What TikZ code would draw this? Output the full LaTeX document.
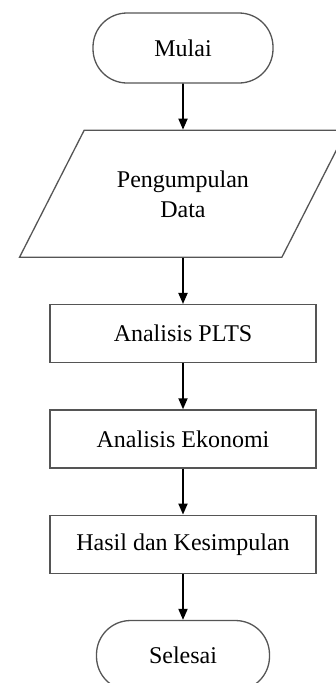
\documentclass[tikz,border=0pt]{standalone}
\usepackage{fontspec}
\setmainfont{Liberation Serif}
\usetikzlibrary{positioning, shapes, arrows.meta}
\definecolor{boxline}{RGB}{85,85,85}
\tikzset{
  flownode/.style = {align=center, inner sep=0pt, text centered,
    font=\fontsize{24}{30}\selectfont, draw=boxline, line width=1.3pt, fill=white},
  termnode/.style = {flownode, rectangle, rounded corners=34pt, minimum height=70pt},
  procbox/.style = {flownode, rectangle, minimum width=266pt, minimum height=58pt},
  databox/.style = {flownode, trapezium, trapezium left angle=63, trapezium right angle=117,
    inner xsep=0pt, inner ysep=40pt,
    trapezium stretches body=true, minimum width=327pt, minimum height=127pt}
}

\begin{document}
\begin{tikzpicture}[node distance=46pt, flowarrow/.style={-{Triangle[width=9pt,length=11pt]}, line width=1.8pt, black}]
\useasboundingbox (0,0) rectangle (335pt,-683pt);
\node [termnode, minimum width=180pt] (mulai) at (183pt,-48pt) {Mulai};
\node [databox, below=of mulai] (data) {Pengumpulan\\Data};
\node [procbox, below=of data] (plts) {Analisis PLTS};
\node [procbox, below=of plts] (ekonomi) {Analisis Ekonomi};
\node [procbox, below=of ekonomi] (hasil) {Hasil dan Kesimpulan};
\node [termnode, minimum width=173pt, below=of hasil] (selesai) {Selesai};

\draw [flowarrow] (mulai) -- (data);
\draw [flowarrow] (data) -- (plts);
\draw [flowarrow] (plts) -- (ekonomi);
\draw [flowarrow] (ekonomi) -- (hasil);
\draw [flowarrow] (hasil) -- (selesai);
\end{tikzpicture}
\end{document}
